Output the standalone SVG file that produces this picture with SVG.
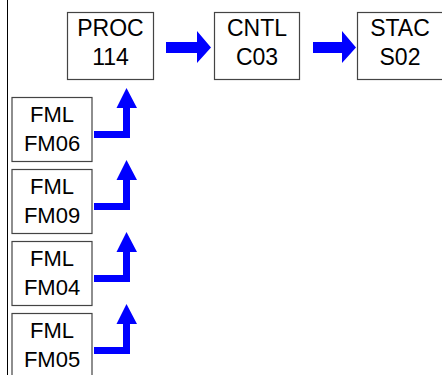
<svg xmlns="http://www.w3.org/2000/svg" width="442" height="375" viewBox="0 0 442 375">
<style>
.box{fill:#fff;stroke:#444;stroke-width:1.2}
.t{font-family:"Liberation Sans",Arial,sans-serif;font-size:23px;fill:#000;text-anchor:middle}
.f{font-family:"Liberation Sans",Arial,sans-serif;font-size:22px;fill:#000;text-anchor:middle}
.arr{fill:#0000ff;stroke:none}
</style>
<defs>
<path id="elbow" class="arr" d="M94,131 H123 V108 H116.5 L126.5,88 L137,108 H130 V138 H94 Z"/>
</defs>
<rect width="442" height="375" fill="#fff"/>
<line x1="7.5" y1="0" x2="7.5" y2="375" stroke="#000" stroke-width="1"/>
<g id="connectors">
<path class="arr" d="M166,42 H197 V31 L211,47.5 L197,63 V53 H166 Z"/>
<path class="arr" d="M313,42 H342 V31 L356,47.5 L342,63 V53 H313 Z"/>
<use href="#elbow"/>
<use href="#elbow" y="72"/>
<use href="#elbow" y="144"/>
<use href="#elbow" y="216"/>
</g>
<g id="proc114">
<rect class="box" x="67.5" y="12.5" width="86" height="67"/>
<text class="t" x="110.5" y="36">PROC</text>
<text class="t" x="110.5" y="65">114</text>
</g>
<g id="cntlc03">
<rect class="box" x="214.5" y="12.5" width="85" height="67"/>
<text class="t" x="257" y="36">CNTL</text>
<text class="t" x="257" y="65">C03</text>
</g>
<g id="stacs02">
<rect class="box" x="357.5" y="12.5" width="86" height="67"/>
<text class="t" x="400" y="36">STAC</text>
<text class="t" x="400" y="65">S02</text>
</g>
<g id="fm06">
<rect class="box" x="12" y="97.5" width="80" height="64"/>
<text class="f" x="52" y="122">FML</text>
<text class="f" x="52" y="151">FM06</text>
</g>
<g id="fm09">
<rect class="box" x="12" y="169.5" width="80" height="64"/>
<text class="f" x="52" y="194">FML</text>
<text class="f" x="52" y="223">FM09</text>
</g>
<g id="fm04">
<rect class="box" x="12" y="241.5" width="80" height="64"/>
<text class="f" x="52" y="266">FML</text>
<text class="f" x="52" y="295">FM04</text>
</g>
<g id="fm05">
<rect class="box" x="12" y="313.5" width="80" height="64"/>
<text class="f" x="52" y="338">FML</text>
<text class="f" x="52" y="367">FM05</text>
</g>
</svg>
